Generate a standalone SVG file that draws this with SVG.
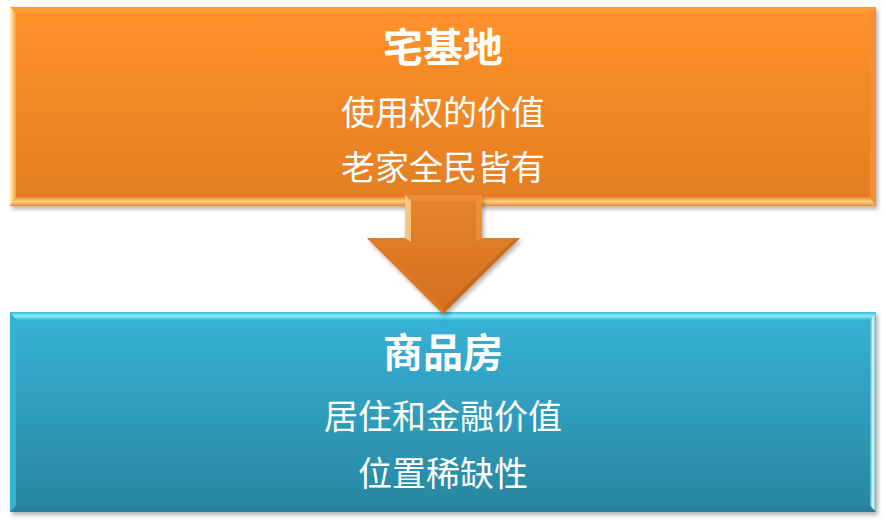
<svg xmlns="http://www.w3.org/2000/svg" width="886" height="525" viewBox="0 0 886 525">
<defs>
<linearGradient id="gOr" x1="0" y1="0" x2="0" y2="1"><stop offset="0" stop-color="#FF922A"/><stop offset="1" stop-color="#E37D22"/></linearGradient>
<linearGradient id="gBl" x1="0" y1="0" x2="0" y2="1"><stop offset="0" stop-color="#36B3D8"/><stop offset="1" stop-color="#29869F"/></linearGradient>
<linearGradient id="gAr" x1="0" y1="0" x2="0" y2="1"><stop offset="0" stop-color="#E8842A"/><stop offset="1" stop-color="#D26E1E"/></linearGradient>
<linearGradient id="gOrL" x1="0" y1="0" x2="1" y2="0"><stop offset="0" stop-color="#FFF3C0"/><stop offset="1" stop-color="#F7A040"/></linearGradient>
<linearGradient id="gOrB" x1="0" y1="0" x2="0" y2="1"><stop offset="0" stop-color="#F08A2C"/><stop offset="0.5" stop-color="#FFD080"/><stop offset="1" stop-color="#EE8A30"/></linearGradient>
<linearGradient id="gBlT" x1="0" y1="0" x2="0" y2="1"><stop offset="0" stop-color="#3AB8DC"/><stop offset="0.5" stop-color="#86EEFF"/><stop offset="1" stop-color="#3AB5D8"/></linearGradient>
<linearGradient id="gBlR" x1="0" y1="0" x2="1" y2="0"><stop offset="0" stop-color="#3BB0D0"/><stop offset="0.5" stop-color="#E8FFFF"/><stop offset="1" stop-color="#40B5D5"/></linearGradient>
<filter id="sh" x="-5%" y="-5%" width="110%" height="115%"><feDropShadow dx="2" dy="3" stdDeviation="2" flood-color="#000" flood-opacity="0.3"/></filter>
<style>
.t{font-family:"Liberation Serif","Noto Sans CJK SC",serif;fill:#fff;text-anchor:middle}
.h{font-size:40px;font-weight:bold}
.s{font-size:34px}
</style>
</defs>
<g id="node-zhaijidi">
<rect x="10" y="7" width="866" height="199" fill="url(#gOr)" filter="url(#sh)"/>
<polygon points="10,7 876,7 870,13 16,13" fill="#FF9A34"/>
<polygon points="10,7 16,13 16,197 10,206" fill="url(#gOrL)"/>
<polygon points="876,7 876,206 870,197 870,13" fill="#F59030"/>
<polygon points="10,206 16,197 870,197 876,206" fill="url(#gOrB)"/>
<text class="t h" x="443" y="62">宅基地</text>
<text class="t s" x="443" y="125">使用权的价值</text>
<text class="t s" x="443" y="180">老家全民皆有</text>
</g>
<g id="node-shangpinfang">
<rect x="10" y="312" width="866" height="200" fill="url(#gBl)" filter="url(#sh)"/>
<polygon points="10,312 876,312 870,320 16,320" fill="url(#gBlT)"/>
<polygon points="10,312 16,320 16,506 10,512" fill="#38B0D2"/>
<polygon points="876,312 876,512 870,506 870,320" fill="url(#gBlR)"/>
<polygon points="10,512 16,506 870,506 876,512" fill="#26809A"/>
<text class="t h" x="443" y="367">商品房</text>
<text class="t s" x="443" y="429">居住和金融价值</text>
<text class="t s" x="443" y="486">位置稀缺性</text>
</g>
<g id="connectors">
<g filter="url(#sh)">
<polygon points="405,195 482,195 482,238 520,238 443,314 367,238 405,238" fill="url(#gAr)"/>
</g>
<polygon points="405,195 411,201 411,242 405,238" fill="#FFD090" opacity="0.85"/>
<polygon points="405,195 482,195 476,201 411,201" fill="#F09040" opacity="0.8"/>
<polygon points="482,195 482,238 476,242 476,201" fill="#F0943A" opacity="0.7"/>
<polygon points="367,238 375,241 443,308 443,314" fill="#E07A24" opacity="0.8"/>
<polygon points="520,238 512,241 443,308 443,314" fill="#C8661A" opacity="0.8"/>
</g>
</svg>
